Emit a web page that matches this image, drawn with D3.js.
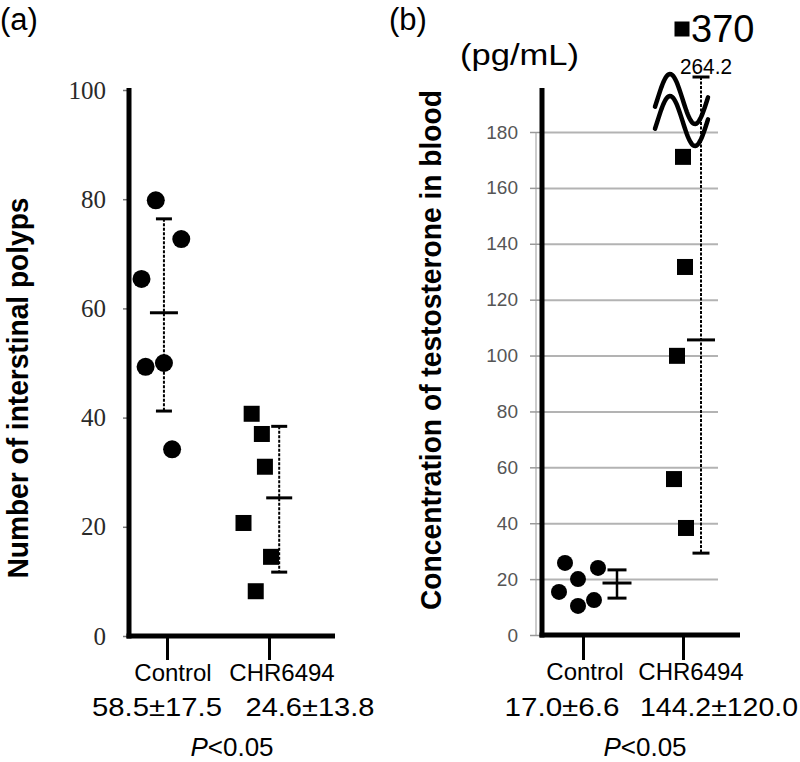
<!DOCTYPE html>
<html><head><meta charset="utf-8">
<script src="https://cdn.jsdelivr.net/npm/d3@7"></script>
<style>body{margin:0;background:#fff}</style>
</head><body><svg id="c" width="800" height="762"></svg>
<script>
// ---------- data ----------
const categories = ["Control", "CHR6494"];

// Panel (a): number of intestinal polyps
const polypsControl = [79.8, 72.7, 65.4, 49.3, 50.0, 34.2];
const polypsControlJitter = [-0.11, 0.14, -0.25, -0.21, -0.03, 0.05];
const polypsCHR = [40.7, 37.0, 31.0, 20.7, 14.5, 8.2];
const polypsCHRJitter = [-0.17, -0.07, -0.04, -0.25, 0.02, -0.13];
const polypsMean = [59.2, 25.3];
const polypsLow = [41.2, 11.7];
const polypsHigh = [76.4, 38.4];
const polypsTicks = [0, 20, 40, 60, 80, 100];
const summaryA = ["58.5\u00B117.5", "24.6\u00B113.8"];

// Panel (b): testosterone (pg/mL)
const testoControl = [25.8, 24.0, 20.0, 15.4, 12.5, 10.4];
const testoControlJitter = [-0.18, 0.15, -0.05, -0.24, 0.11, -0.05];
const testoCHR = [171.1, 131.7, 99.9, 55.8, 38.3, 370];
const testoCHRJitter = [0.0, 0.02, -0.06, -0.09, 0.03, -0.01];
const testoMean = [18.6, 105.6];
const testoLow = [13.2, 29.3];
const testoHigh = [23.3, 264.2];
const testoTicks = [0, 20, 40, 60, 80, 100, 120, 140, 160, 180];
const summaryB = ["17.0\u00B16.6", "144.2\u00B1120.0"];

const sans = "'Liberation Sans', Arial, sans-serif";
const serif = "'Liberation Serif', 'Times New Roman', serif";

const svg = d3.select("#c");

// ---------- helpers ----------
function errorBar(g, x, y, mean, lo, hi, dashed, capHalf, meanHalf) {
  g.append("line").attr("x1", x).attr("x2", x).attr("y1", y(hi)).attr("y2", y(lo))
    .attr("stroke", "#000").attr("stroke-width", dashed ? 2 : 2.5)
    .attr("stroke-dasharray", dashed ? "3,1.5" : null);
  [hi, lo].forEach(v => g.append("line").attr("x1", x - capHalf).attr("x2", x + capHalf)
    .attr("y1", y(v)).attr("y2", y(v)).attr("stroke", "#000").attr("stroke-width", 3));
  g.append("line").attr("x1", x - meanHalf).attr("x2", x + meanHalf)
    .attr("y1", y(mean)).attr("y2", y(mean)).attr("stroke", "#000").attr("stroke-width", 3);
}

// ================= Panel (a) =================
const ga = svg.append("g");
const ya = d3.scaleLinear().domain([0, 100]).range([636, 90]);
const xa = d3.scalePoint().domain(categories).range([167, 269]);
const ja = d3.scaleLinear().domain([0, 1]).range([0, 102]);
const axA = 129;

ga.append("text").attr("x", 0).attr("y", 30).attr("font-family", sans)
  .attr("font-size", 31).text("(a)");

const yAxisA = d3.axisLeft(ya).tickValues(polypsTicks).tickSize(6).tickPadding(17);
const gya = ga.append("g").attr("transform", `translate(${axA},0)`).call(yAxisA);
gya.select(".domain").remove();
gya.selectAll(".tick line").attr("stroke", "#777").attr("stroke-width", 1.5);
gya.selectAll(".tick text").attr("font-family", serif).attr("font-size", 25)
  .attr("fill", "#2a2a2a");

// thick axis lines
ga.append("line").attr("x1", axA).attr("x2", axA).attr("y1", ya(0) + 2.5).attr("y2", ya(100) - 2)
  .attr("stroke", "#000").attr("stroke-width", 5);
ga.append("line").attr("x1", axA - 2.5).attr("x2", 335).attr("y1", ya(0)).attr("y2", ya(0))
  .attr("stroke", "#000").attr("stroke-width", 5);

// category ticks
const xAxisA = d3.axisBottom(xa).tickSize(24).tickFormat("");
const gxa = ga.append("g").attr("transform", `translate(0,${ya(0)})`).call(xAxisA);
gxa.select(".domain").remove();
gxa.selectAll(".tick line").attr("stroke", "#000").attr("stroke-width", 3);

// points
ga.selectAll("circle.pt").data(polypsControl).join("circle")
  .attr("cx", (d, i) => xa("Control") + ja(polypsControlJitter[i]))
  .attr("cy", d => ya(d)).attr("r", 9).attr("fill", "#000");
ga.selectAll("rect.pt").data(polypsCHR).join("rect")
  .attr("x", (d, i) => xa("CHR6494") + ja(polypsCHRJitter[i]) - 8)
  .attr("y", d => ya(d) - 8).attr("width", 16).attr("height", 16).attr("fill", "#000");

// error bars
errorBar(ga, xa("Control") + ja(-0.03), ya, polypsMean[0], polypsLow[0], polypsHigh[0], true, 8, 14);
errorBar(ga, xa("CHR6494") + ja(0.1), ya, polypsMean[1], polypsLow[1], polypsHigh[1], true, 8, 13);

// y title
ga.append("text").attr("transform", "translate(28,388) rotate(-90)")
  .attr("text-anchor", "middle").attr("font-family", sans).attr("font-weight", "bold")
  .attr("font-size", 29).attr("textLength", 381).attr("lengthAdjust", "spacingAndGlyphs")
  .text("Number of interstinal polyps");

// labels
const labDxA = [6, 13], sumDxA = [-10, 41], sumLenA = [130, 129];
categories.forEach((c, i) => {
  ga.append("text").attr("x", xa(c) + labDxA[i]).attr("y", 681).attr("text-anchor", "middle")
    .attr("font-family", sans).attr("font-size", 24).text(c);
  ga.append("text").attr("x", xa(c) + sumDxA[i]).attr("y", 716).attr("text-anchor", "middle")
    .attr("font-family", sans).attr("font-size", 26)
    .attr("textLength", sumLenA[i]).attr("lengthAdjust", "spacingAndGlyphs").text(summaryA[i]);
});
const pa = ga.append("text").attr("x", 232).attr("y", 756).attr("text-anchor", "middle")
  .attr("font-family", sans).attr("font-size", 26);
pa.append("tspan").attr("font-style", "italic").text("P");
pa.append("tspan").text("<0.05");

// ================= Panel (b) =================
const gb = svg.append("g");
// broken axis: 0-180 linear, then compressed above the break
const yb = d3.scaleLinear().domain([0, 180, 264.2, 370]).range([635, 132, 77, 29]);
const xb = d3.scalePoint().domain(categories).range([583, 683]);
const jb = d3.scaleLinear().domain([0, 1]).range([0, 100]);
const axB = 542;

gb.append("text").attr("x", 389).attr("y", 30).attr("font-family", sans)
  .attr("font-size", 31).text("(b)");
gb.append("text").attr("x", 460).attr("y", 65).attr("font-family", sans)
  .attr("font-size", 29).attr("textLength", 119).attr("lengthAdjust", "spacingAndGlyphs")
  .text("(pg/mL)");

// gridlines
const grid = d3.axisRight(yb).tickValues(testoTicks.filter(t => t > 0)).tickSize(174).tickFormat("");
const gg = gb.append("g").attr("transform", `translate(${axB + 2},0)`).call(grid);
gg.select(".domain").remove();
gg.selectAll(".tick line").attr("stroke", "#b3b3b3").attr("stroke-width", 2);

// faint original axis
gb.append("line").attr("x1", 536).attr("x2", 536).attr("y1", yb(0)).attr("y2", yb(180))
  .attr("stroke", "#bbb").attr("stroke-width", 1.5);

const yAxisB = d3.axisLeft(yb).tickValues(testoTicks).tickSize(12).tickPadding(12);
const gyb = gb.append("g").attr("transform", `translate(${axB},0)`).call(yAxisB);
gyb.select(".domain").remove();
gyb.selectAll(".tick line").attr("stroke", "#999").attr("stroke-width", 1.5);
gyb.selectAll(".tick text").attr("font-family", sans).attr("font-size", 19).attr("fill", "#555");

gb.append("line").attr("x1", axB).attr("x2", axB).attr("y1", yb(0) + 2.5).attr("y2", 88)
  .attr("stroke", "#000").attr("stroke-width", 5);
gb.append("line").attr("x1", axB - 2.5).attr("x2", 740).attr("y1", yb(0)).attr("y2", yb(0))
  .attr("stroke", "#000").attr("stroke-width", 5);

const xAxisB = d3.axisBottom(xb).tickSize(25).tickFormat("");
const gxb = gb.append("g").attr("transform", `translate(0,${yb(0)})`).call(xAxisB);
gxb.select(".domain").remove();
gxb.selectAll(".tick line").attr("stroke", "#000").attr("stroke-width", 3);

// points
gb.selectAll("circle.pt").data(testoControl).join("circle")
  .attr("cx", (d, i) => xb("Control") + jb(testoControlJitter[i]))
  .attr("cy", d => yb(d)).attr("r", 8).attr("fill", "#000");
gb.selectAll("rect.pt").data(testoCHR).join("rect")
  .attr("x", (d, i) => xb("CHR6494") + jb(testoCHRJitter[i]) - (d > 180 ? 7.5 : 8))
  .attr("y", d => yb(d) - (d > 180 ? 7.5 : 8))
  .attr("width", d => d > 180 ? 15 : 16).attr("height", d => d > 180 ? 15 : 16).attr("fill", "#000");
// label of the off-scale point
testoCHR.forEach((d, i) => {
  if (d > 180) {
    gb.append("text").attr("x", xb("CHR6494") + jb(testoCHRJitter[i]) + 9).attr("y", yb(d) + 13)
      .attr("font-family", sans).attr("font-size", 38).text(d);
  }
});

// error bars
errorBar(gb, xb("Control") + jb(0.34), yb, testoMean[0], testoLow[0], testoHigh[0], false, 9.5, 14.5);
errorBar(gb, xb("CHR6494") + jb(0.18), yb, testoMean[1], testoLow[1], testoHigh[1], true, 8.5, 14);
gb.append("text").attr("x", xb("CHR6494") + jb(0.18) - 21).attr("y", yb(testoHigh[1]) - 3)
  .attr("font-family", sans).attr("font-size", 22).attr("textLength", 52)
  .attr("lengthAdjust", "spacingAndGlyphs").text(testoHigh[1].toFixed(1));

// axis break symbol (two waves)
const waveX = d3.scaleLinear().domain([0, 1]).range([xb("CHR6494") - 28, xb("CHR6494") + 25]);
const wave = d3.line().x(t => waveX(t)).y(t => -25 * Math.cos(Math.PI * (waveX(t) - (xb("CHR6494") - 13)) / 25));
const ts = d3.range(0, 1.0001, 0.02);
[yb(180) - 33, yb(180) - 11].forEach(c => {
  gb.append("path").attr("d", wave(ts)).attr("transform", `translate(0,${c})`)
    .attr("fill", "none").attr("stroke", "#000").attr("stroke-width", 4.5)
    .attr("stroke-linecap", "round");
});

// y title
gb.append("text").attr("transform", "translate(441,350) rotate(-90)")
  .attr("text-anchor", "middle").attr("font-family", sans).attr("font-weight", "bold")
  .attr("font-size", 29).attr("textLength", 520).attr("lengthAdjust", "spacingAndGlyphs")
  .text("Concentration of testosterone in blood");

const labDxB = [2, 8], sumDxB = [-21, 36], sumLenB = [115, 158];
categories.forEach((c, i) => {
  gb.append("text").attr("x", xb(c) + labDxB[i]).attr("y", 680).attr("text-anchor", "middle")
    .attr("font-family", sans).attr("font-size", 24).text(c);
  gb.append("text").attr("x", xb(c) + sumDxB[i]).attr("y", 716).attr("text-anchor", "middle")
    .attr("font-family", sans).attr("font-size", 26)
    .attr("textLength", sumLenB[i]).attr("lengthAdjust", "spacingAndGlyphs").text(summaryB[i]);
});
const pb = gb.append("text").attr("x", 645).attr("y", 756).attr("text-anchor", "middle")
  .attr("font-family", sans).attr("font-size", 26);
pb.append("tspan").attr("font-style", "italic").text("P");
pb.append("tspan").text("<0.05");
</script></body></html>
